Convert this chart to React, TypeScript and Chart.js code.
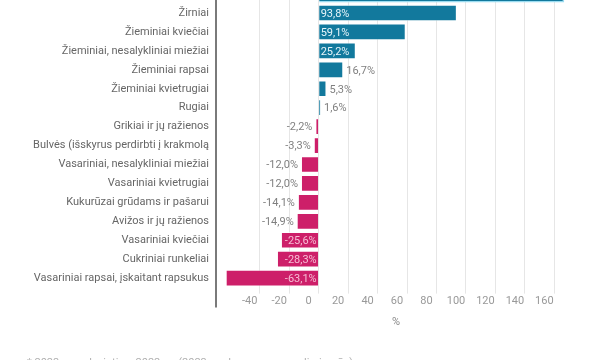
import React, { useEffect, useRef } from 'react';
import { Chart, registerables } from 'chart.js';

Chart.register(...registerables);

const categories = [
  'Pupos',
  'Žirniai',
  'Žieminiai kviečiai',
  'Žieminiai, nesalykliniai miežiai',
  'Žieminiai rapsai',
  'Žieminiai kvietrugiai',
  'Rugiai',
  'Grikiai ir jų ražienos',
  'Bulvės (išskyrus perdirbti į krakmolą',
  'Vasariniai, nesalykliniai miežiai',
  'Vasariniai kvietrugiai',
  'Kukurūzai grūdams ir pašarui',
  'Avižos ir jų ražienos',
  'Vasariniai kviečiai',
  'Cukriniai runkeliai',
  'Vasariniai rapsai, įskaitant rapsukus',
];

const changes = [166.7, 93.8, 59.1, 25.2, 16.7, 5.3, 1.6, -2.2, -3.3, -12.0, -12.0, -14.1, -14.9, -25.6, -28.3, -63.1];

const xTickValues = [-40, -20, 0, 20, 40, 60, 80, 100, 120, 140, 160];
const xMin = -69;
const xMax = 174;
const axisTitle = '%';
const footnote = '* 2023 m. palyginti su 2022 m. (2023 m. duomenys – preliminarūs)';

const POS = '#12799d';
const NEG = '#cd1f69';

const fmt = (v: number) => v.toFixed(1).replace('.', ',') + '%';

const valueLabels = {
  id: 'valueLabels',
  afterDatasetsDraw(chart: any) {
    const { ctx } = chart;
    const meta = chart.getDatasetMeta(0);
    const zero = chart.scales.x.getPixelForValue(0);
    ctx.save();
    ctx.font = '11px Roboto';
    ctx.textBaseline = 'middle';
    meta.data.forEach((bar: any, i: number) => {
      const v = changes[i];
      const inside = Math.abs(v) >= 20;
      let x: number;
      let align: CanvasTextAlign;
      let color: string;
      if (v >= 0) {
        align = 'left';
        if (inside) { x = zero + 2; color = '#e6f5fa'; }
        else { x = bar.x + 3; color = '#808080'; }
      } else {
        align = 'right';
        if (inside) { x = zero - 2; color = '#f7bdd5'; }
        else { x = bar.x - 3; color = '#808080'; }
      }
      ctx.textAlign = align;
      ctx.fillStyle = color;
      ctx.fillText(fmt(v), x, bar.y + 1);
    });
    ctx.restore();
  },
};

const axisLine = {
  id: 'axisLine',
  afterDraw(chart: any) {
    const { ctx, chartArea } = chart;
    ctx.save();
    ctx.strokeStyle = '#7a7a7a';
    ctx.lineWidth = 2;
    ctx.beginPath();
    ctx.moveTo(chartArea.left - 1, 0);
    ctx.lineTo(chartArea.left - 1, chartArea.bottom + 20);
    ctx.stroke();
    ctx.restore();
  },
};

export default function App() {
  const ref = useRef<HTMLCanvasElement>(null);

  useEffect(() => {
    if (!ref.current) return;
    Chart.defaults.font.family = 'Roboto';
    const chart = new Chart(ref.current, {
      type: 'bar',
      data: {
        labels: categories,
        datasets: [
          {
            data: changes,
            backgroundColor: changes.map((v) => (v >= 0 ? POS : NEG)),
            borderColor: changes.map((_, i) => (i === 0 ? '#9bdcf0' : 'rgba(255,255,255,0.55)')),
            borderWidth: changes.map((_, i) => (i === 0 ? 1.5 : 1)),
            categoryPercentage: 1,
            barPercentage: 0.88,
          },
        ],
      },
      options: {
        indexAxis: 'y',
        animation: false,
        responsive: true,
        maintainAspectRatio: false,
        layout: { padding: { left: 0, right: 25, top: 0, bottom: 0 } },
        plugins: { legend: { display: false }, tooltip: { enabled: false } },
        scales: {
          x: {
            type: 'linear',
            min: xMin,
            max: xMax,
            afterBuildTicks: (axis: any) => {
              axis.ticks = xTickValues.map((v) => ({ value: v }));
            },
            grid: { color: '#e6e6e6', lineWidth: 1, tickLength: 6 },
            border: { display: false },
            ticks: {
              color: '#999999',
              font: { size: 11 },
              padding: 1,
              labelOffset: -10,
              maxRotation: 0,
              callback: (v: any) => String(v),
            },
            title: {
              display: true,
              text: axisTitle,
              color: '#888888',
              font: { size: 11 },
              padding: { top: 7, bottom: 5 },
            },
          },
          y: {
            type: 'category',
            grid: { display: false, drawTicks: false },
            border: { display: false },
            afterFit: (axis: any) => {
              axis.width = 217;
            },
            ticks: {
              color: '#666666',
              font: { size: 11 },
              padding: 8,
              autoSkip: false,
            },
          },
        },
      },
      plugins: [valueLabels, axisLine],
    });
    return () => chart.destroy();
  }, []);

  return (
    <>
      <div style={{ position: 'fixed', left: 0, top: -30, width: 600, height: 364 }}>
        <canvas ref={ref} />
      </div>
      <div
        style={{
          position: 'fixed',
          left: 27,
          top: 356,
          font: '11px Roboto',
          color: '#b0b0b0',
          whiteSpace: 'nowrap',
          lineHeight: '14px',
        }}
      >
        {footnote}
      </div>
    </>
  );
}
